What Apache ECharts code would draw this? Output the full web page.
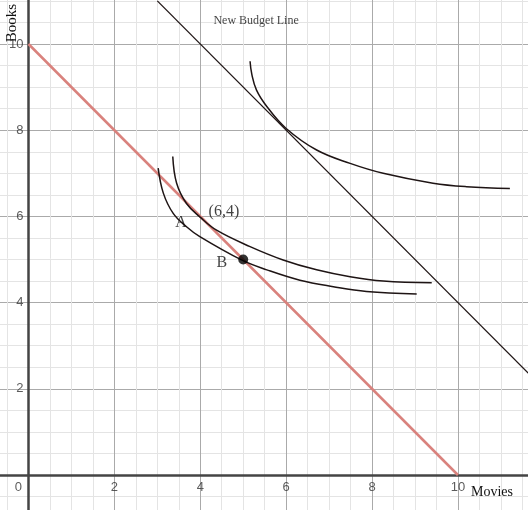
<!DOCTYPE html>
<html>
<head>
<meta charset="utf-8">
<script src="https://cdn.jsdelivr.net/npm/echarts@6/dist/echarts.min.js"></script>
<style>
  html, body { margin: 0; padding: 0; background: #fff; }
  #chart { width: 528px; height: 517px; }
</style>
</head>
<body>
<div id="chart"></div>
<script>
// budget lines (Movies, Books)
const budgetLine = [[0, 10], [10, 0]]
const newBudgetLine = [[3, 11], [12, 2]]

// indifference curves
const curveUpper = [
  [5.16, 9.6], [5.2, 9.3], [5.31, 8.93], [5.55, 8.55], [6.0, 8.04], [6.71, 7.54],
  [7.49, 7.23], [8.26, 7.0], [9.42, 6.77], [10.2, 6.69], [11.21, 6.65]
]
const curveMiddle = [
  [3.36, 7.39], [3.45, 6.77], [3.68, 6.3], [3.99, 5.99], [4.38, 5.68], [5.16, 5.3],
  [5.93, 4.99], [6.71, 4.76], [7.49, 4.6], [8.26, 4.5], [9.39, 4.46]
]
const curveLower = [
  [3.02, 7.12], [3.14, 6.54], [3.37, 6.07], [3.68, 5.76], [3.99, 5.53], [4.96, 4.99],
  [5.55, 4.76], [6.32, 4.52], [7.1, 4.37], [7.87, 4.26], [9.04, 4.2]
]
const pointB = [[5, 5]]

// tick labels along the axes through the origin
const xTicks = [2, 4, 6, 8, 10]
const yTicks = [2, 4, 6, 8, 10]

// text annotations placed in data space
const annotations = [
  { text: 'A', coord: [3.55, 5.85] },
  { text: 'B', coord: [4.5, 4.93] },
  { text: '(6,4)', coord: [4.55, 6.1] },
  { text: 'New Budget Line', coord: [5.3, 10.53] }
]

const chart = echarts.init(document.getElementById('chart'))

const serif = 'Liberation Serif, Times New Roman, serif'
const sans = 'Liberation Sans, Arial, sans-serif'

const curveStyle = { color: '#1e1414', width: 1.5 }
const tickLabel = { show: true, fontFamily: sans, fontSize: 13, color: '#333' }

const axisCommon = {
  type: 'value',
  min: -2,
  max: 12,
  interval: 2,
  axisLine: { onZero: true, lineStyle: { color: '#444', width: 2.5 } },
  axisTick: { show: false },
  axisLabel: { show: false },
  splitLine: { lineStyle: { color: '#aaa', width: 1 } },
  minorTick: { show: false, splitNumber: 4 },
  minorSplitLine: { show: true, lineStyle: { color: '#e4e4e4', width: 1 } }
}

const option = {
  animation: false,
  grid: {
    left: -57.4,
    width: 601.2,
    top: -42.2,
    height: 603.4,
    containLabel: false,
    outerBoundsMode: 'none'
  },
  xAxis: axisCommon,
  yAxis: axisCommon,
  graphic: [
    // plot area ends a few pixels above the bottom edge
    {
      type: 'rect',
      left: 0,
      top: 510,
      z: 50,
      shape: { width: 528, height: 7 },
      style: { fill: '#fff' }
    },
    {
      type: 'text',
      left: 5,
      top: 4,
      z: 100,
      rotation: Math.PI / 2,
      style: { text: 'Books', font: '15px ' + serif, fill: '#111' }
    },
    {
      type: 'text',
      left: 471,
      top: 485,
      z: 100,
      style: { text: 'Movies', font: '14px ' + serif, fill: '#111' }
    }
  ],
  series: [
    {
      type: 'line',
      data: budgetLine,
      symbol: 'none',
      lineStyle: { color: '#d9827d', width: 2.5 },
      z: 3
    },
    {
      type: 'line',
      data: newBudgetLine,
      symbol: 'none',
      lineStyle: { color: '#1e1414', width: 1.3 }
    },
    { type: 'line', data: curveUpper, symbol: 'none', smooth: 0.4, lineStyle: curveStyle },
    { type: 'line', data: curveMiddle, symbol: 'none', smooth: 0.4, lineStyle: curveStyle },
    { type: 'line', data: curveLower, symbol: 'none', smooth: 0.4, lineStyle: curveStyle },
    {
      type: 'scatter',
      data: pointB,
      symbolSize: 10,
      itemStyle: { color: '#000' },
      z: 5
    },
    {
      type: 'scatter',
      symbolSize: 0,
      data: annotations.map(a => ({ value: a.coord, name: a.text })),
      label: {
        show: true,
        position: 'inside',
        formatter: p => p.name,
        fontFamily: serif,
        color: '#111',
        fontSize: 16
      }
    },
    // x tick labels
    {
      type: 'scatter',
      symbolSize: 0,
      data: [0].concat(xTicks).map(v => [v, 0]),
      label: Object.assign({}, tickLabel, {
        position: 'bottom',
        distance: 6,
        formatter: p => String(p.value[0])
      })
    },
    // y tick labels
    {
      type: 'scatter',
      symbolSize: 0,
      data: yTicks.map(v => [0, v]),
      label: Object.assign({}, tickLabel, {
        position: 'left',
        distance: 5,
        formatter: p => String(p.value[1])
      })
    }
  ]
}

// caption size and origin label shift
option.series[6].data[3].label = { fontSize: 12 }
option.series[7].data[0] = { value: [0, 0], label: { offset: [-10, 0] } }

chart.setOption(option)
</script>
</body>
</html>
